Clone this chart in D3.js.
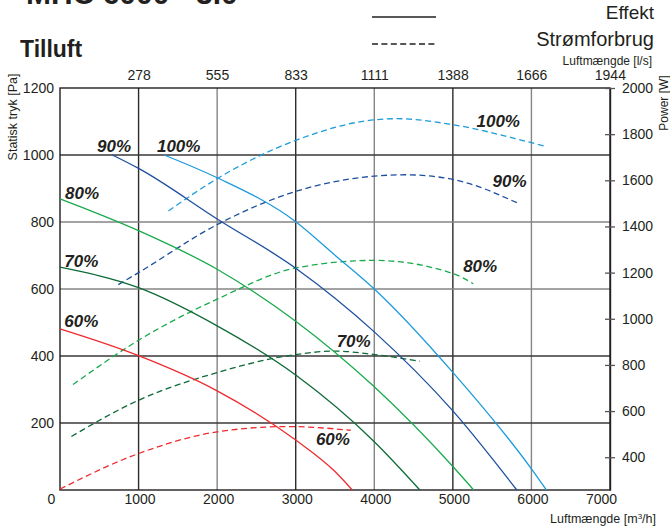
<!DOCTYPE html>
<html>
<head>
<meta charset="utf-8">
<script src="https://cdn.jsdelivr.net/npm/d3@7"></script>
<style>
  body { margin: 0; background: #fff; }
  svg { display: block; font-family: "Liberation Sans", Arial, Helvetica, sans-serif; }
</style>
</head>
<body>
<svg id="chart" width="670" height="531"></svg>
<script>
// --- Data ---
const speeds = ["60%", "70%", "80%", "90%", "100%"];
const colors = ["#ee2b2f", "#0c6a36", "#19aa4c", "#1d4f9f", "#1c9bdc"];

// Static pressure [Pa] vs airflow [m3/h]
const pressure60 = [[0, 481], [1000, 401], [2000, 296], [3000, 149], [3500, 55], [3720, 0]];
const pressure70 = [[0, 665], [1000, 604], [2000, 490], [3000, 343], [4000, 144], [4580, 0]];
const pressure80 = [[0, 869], [1000, 774], [2000, 659], [3000, 504], [4000, 308], [5000, 70], [5265, 0]];
const pressure90 = [[666, 1000], [1000, 960], [2000, 809], [3000, 662], [4000, 472], [5000, 236], [5814, 0]];
const pressure100 = [[1325, 1000], [2000, 932], [3000, 801], [3500, 701], [4000, 600], [5000, 351], [6000, 63], [6190, 0]];

// Power consumption [W] vs airflow [m3/h]
const power60 = [[0, 262], [1000, 416], [2000, 510], [2900, 533], [3700, 517]];
const power70 = [[145, 490], [1000, 647], [2000, 767], [3000, 845], [3500, 860], [4000, 845], [4580, 816]];
const power80 = [[166, 715], [1000, 907], [2000, 1085], [3000, 1220], [4000, 1253], [5000, 1196], [5260, 1152]];
const power90 = [[742, 1148], [1000, 1200], [2000, 1408], [3000, 1552], [4000, 1618], [4400, 1624], [5000, 1604], [5840, 1499]];
const power100 = [[1380, 1467], [2000, 1607], [3000, 1773], [4000, 1862], [4300, 1867], [5000, 1841], [6000, 1763], [6175, 1748]];

const pressureSeries = [pressure60, pressure70, pressure80, pressure90, pressure100];
const powerSeries = [power60, power70, power80, power90, power100];

const flowTicks = [0, 1000, 2000, 3000, 4000, 5000, 6000, 7000];
const lpsTicks = [278, 555, 833, 1111, 1388, 1666, 1944];
const pressureTicks = [0, 200, 400, 600, 800, 1000, 1200];
const powerTicks = [400, 600, 800, 1000, 1200, 1400, 1600, 1800, 2000];

// label anchors in data units [flow, Pa]
const leftLabelSpots = [[55, 486], [55, 667], [64, 868], [471, 1009], [1234, 1009]];
const rightLabelSpots = [[3257, 134], [3521, 427], [5131, 650], [5505, 904], [5301, 1085]];

// --- Setup ---
const svg = d3.select("#chart");
const ink = "#231f20";
const plain = d3.format("d");

const x = d3.scaleLinear().domain([0, 7000]).range([60, 610]);
const xLs = d3.scaleLinear().domain([0, 7000 / 3.6]).range([60, 610]);
const y = d3.scaleLinear().domain([0, 1200]).range([490, 88]);
const yW = d3.scaleLinear().domain([258, 2000]).range([490, 88]);

// Title (cut off at the top in the original)
svg.append("text").attr("x", 26).attr("y", 4)
  .style("font-size", "30px").style("font-weight", "bold").style("fill", ink)
  .text("MHC 6000 - 3.0");

svg.append("text").attr("x", 20).attr("y", 57)
  .style("font-size", "23px").style("font-weight", "bold").style("fill", ink)
  .text("Tilluft");

// Legend
svg.append("line").attr("x1", 372).attr("x2", 436).attr("y1", 17).attr("y2", 17)
  .style("stroke", ink).style("stroke-width", 1.3);
svg.append("line").attr("x1", 372).attr("x2", 436).attr("y1", 44).attr("y2", 44)
  .style("stroke", ink).style("stroke-width", 1.3).style("stroke-dasharray", "6,3.4");
svg.append("text").attr("x", 654).attr("y", 19).attr("text-anchor", "end")
  .style("font-size", "19px").style("fill", ink).text("Effekt");
svg.append("text").attr("x", 654).attr("y", 46).attr("text-anchor", "end")
  .style("font-size", "20px").style("fill", ink).text("Strømforbrug");

// --- Grid ---
const grid = svg.append("g");
grid.selectAll(".vgrid")
  .data(flowTicks.slice(1, -1))
  .join("line")
  .attr("x1", d => x(d)).attr("x2", d => x(d))
  .attr("y1", y(1200)).attr("y2", y(0))
  .style("stroke", d => (d / 1000) % 2 === 1 ? "#2d2a2b" : "#858585")
  .style("stroke-width", 1.4);
grid.selectAll(".hgrid")
  .data(pressureTicks.slice(1, -1))
  .join("line")
  .attr("x1", x(0)).attr("x2", x(7000))
  .attr("y1", d => y(d)).attr("y2", d => y(d))
  .style("stroke", d => (d === 600 || d === 800) ? "#858585" : "#3a3738")
  .style("stroke-width", 1.4);

// frame
svg.append("rect")
  .attr("x", x(0)).attr("y", y(1200))
  .attr("width", x(7000) - x(0)).attr("height", y(0) - y(1200))
  .style("fill", "none").style("stroke", ink).style("stroke-width", 1.4);

// --- Axes ---
const fontAxis = "14px";

const bottomAxis = svg.append("g").attr("transform", `translate(0,${y(0)})`)
  .call(d3.axisBottom(x).tickValues(flowTicks).tickSize(0).tickPadding(4).tickFormat(plain));
bottomAxis.select(".domain").remove();
bottomAxis.selectAll("text")
  .style("font-size", fontAxis).style("fill", ink)
  .attr("dx", d => (d === 0 || d === 7000) ? -9 : 1);

const topAxis = svg.append("g").attr("transform", `translate(0,${y(1200)})`)
  .call(d3.axisTop(xLs).tickValues(lpsTicks).tickSize(0).tickPadding(8).tickFormat(plain));
topAxis.select(".domain").remove();
topAxis.selectAll("text").style("font-size", fontAxis).style("fill", ink);

const leftAxis = svg.append("g").attr("transform", `translate(${x(0)},0)`)
  .call(d3.axisLeft(y).tickValues(pressureTicks.slice(1)).tickSize(0).tickPadding(6).tickFormat(plain));
leftAxis.select(".domain").remove();
leftAxis.selectAll("text").style("font-size", fontAxis).style("fill", ink);

const rightAxis = svg.append("g").attr("transform", `translate(${x(7000)},0)`)
  .call(d3.axisRight(yW).tickValues(powerTicks).tickSizeInner(5).tickSizeOuter(0).tickPadding(7).tickFormat(plain));
rightAxis.select(".domain").style("stroke", ink).style("stroke-width", 1.4);
rightAxis.selectAll(".tick line").attr("x1", -5).attr("x2", 5)
  .style("stroke", "#555").style("stroke-width", 1.3);
rightAxis.selectAll("text").style("font-size", fontAxis).style("fill", ink);

// strip d3's default axis font so the svg font applies
svg.selectAll("g[font-family]").attr("font-family", null).attr("font-size", null);

// axis titles
svg.append("text").attr("x", 656).attr("y", 523).attr("text-anchor", "end")
  .style("font-size", "12.5px").style("fill", ink)
  .html("Luftmængde [m<tspan dy='-4' font-size='8px'>3</tspan><tspan dy='4'>/h]</tspan>");
svg.append("text").attr("x", 652).attr("y", 65).attr("text-anchor", "end")
  .style("font-size", "12px").style("fill", ink).text("Luftmængde [l/s]");
svg.append("text").attr("transform", "translate(17,117) rotate(-90)").attr("text-anchor", "middle")
  .style("font-size", "12.5px").style("fill", ink).text("Statisk tryk [Pa]");
svg.append("text").attr("transform", "translate(668,103) rotate(-90)").attr("text-anchor", "middle")
  .style("font-size", "12px").style("fill", ink).text("Power [W]");

// --- Curves ---
const pLine = d3.line().x(d => x(d[0])).y(d => y(d[1])).curve(d3.curveMonotoneX);
const wLine = d3.line().x(d => x(d[0])).y(d => yW(d[1])).curve(d3.curveMonotoneX);

svg.append("g").selectAll("path")
  .data(powerSeries)
  .join("path")
  .attr("d", wLine)
  .style("fill", "none")
  .style("stroke", (d, i) => colors[i])
  .style("stroke-width", 1.3)
  .style("stroke-dasharray", "6,3.6");

svg.append("g").selectAll("path")
  .data(pressureSeries)
  .join("path")
  .attr("d", pLine)
  .style("fill", "none")
  .style("stroke", (d, i) => colors[i])
  .style("stroke-width", 1.3);

// --- Speed labels ---
function speedLabels(spots) {
  svg.append("g").selectAll("text")
    .data(spots)
    .join("text")
    .attr("x", d => x(d[0]))
    .attr("y", d => y(d[1]))
    .style("font-size", "17px")
    .style("font-weight", "bold")
    .style("font-style", "italic")
    .style("fill", ink)
    .text((d, i) => speeds[i]);
}
speedLabels(leftLabelSpots);
speedLabels(rightLabelSpots);
</script>
</body>
</html>
